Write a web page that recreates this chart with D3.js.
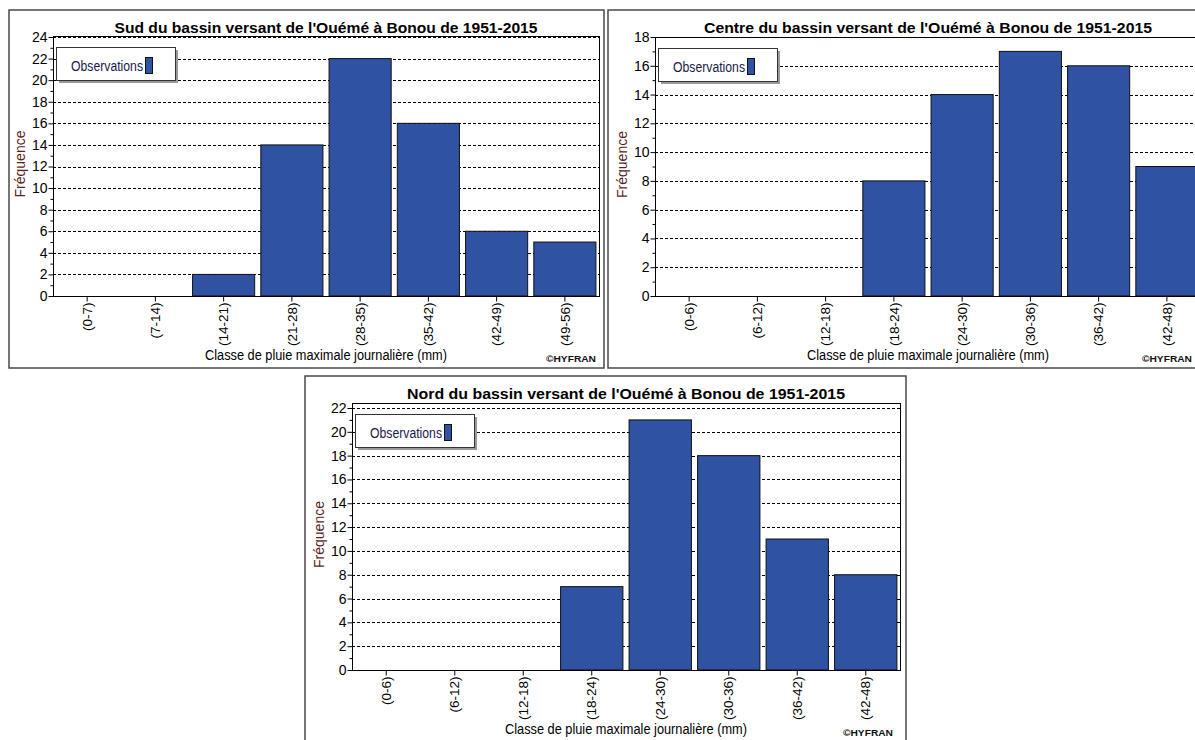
<!DOCTYPE html>
<html><head><meta charset="utf-8">
<script src="https://cdn.jsdelivr.net/npm/d3@7"></script>
<style>body{margin:0;background:#fff;}svg{display:block;}</style>
</head><body>
<svg id="chart" width="1195" height="740"></svg>
<script>
// ---- Data ----
const sudCategories = ["(0-7)","(7-14)","(14-21)","(21-28)","(28-35)","(35-42)","(42-49)","(49-56)"];
const sudValues = [0,0,2,14,22,16,6,5];
const sudYTicks = [0,2,4,6,8,10,12,14,16,18,20,22,24];

const centreCategories = ["(0-6)","(6-12)","(12-18)","(18-24)","(24-30)","(30-36)","(36-42)","(42-48)"];
const centreValues = [0,0,0,8,14,17,16,9];
const centreYTicks = [0,2,4,6,8,10,12,14,16,18];

const nordCategories = ["(0-6)","(6-12)","(12-18)","(18-24)","(24-30)","(30-36)","(36-42)","(42-48)"];
const nordValues = [0,0,0,7,21,18,11,8];
const nordYTicks = [0,2,4,6,8,10,12,14,16,18,20,22];

const titles = [
  "Sud du bassin versant de l'Ouémé à Bonou de 1951-2015",
  "Centre du bassin versant de l'Ouémé à Bonou de 1951-2015",
  "Nord du bassin versant de l'Ouémé à Bonou de 1951-2015"
];
const xTitle = "Classe de pluie maximale journalière (mm)";
const yTitle = "Fréquence";
const legendLabel = "Observations";
const credit = "©HYFRAN";

// ---- Layout ----
const panels = [
  {title: titles[0], cats: sudCategories, vals: sudValues, ticks: sudYTicks,
   frame: {x0: 9, y0: 10, x1: 604, y1: 368},
   plot: {left: 53, right: 599, top: 36, y0px: 296, ymaxpx: 37},
   titleW: 423, titleY: 33, creditX: 596},
  {title: titles[1], cats: centreCategories, vals: centreValues, ticks: centreYTicks,
   frame: {x0: 608, y0: 10, x1: 1205, y1: 368},
   plot: {left: 655, right: 1201, top: 37, y0px: 296, ymaxpx: 37},
   titleW: 448, titleY: 33, creditX: 1192},
  {title: titles[2], cats: nordCategories, vals: nordValues, ticks: nordYTicks,
   frame: {x0: 305, y0: 376, x1: 906, y1: 760},
   plot: {left: 352, right: 900, top: 403, y0px: 670, ymaxpx: 408},
   titleW: 438, titleY: 399, creditX: 893}
];

const svg = d3.select("#chart");
const FONT = "'Liberation Sans', Arial, sans-serif";
const BAR = "#2f52a2";

panels.forEach(p => {
  const g = svg.append("g");
  const P = p.plot, F = p.frame;
  // frame
  g.append("rect").attr("x", F.x0).attr("y", F.y0)
    .attr("width", F.x1 - F.x0).attr("height", F.y1 - F.y0)
    .attr("fill", "#fff").attr("stroke", "#4a4a4a").attr("stroke-width", 1.5);

  const x = d3.scaleBand().domain(p.cats).range([P.left, P.right])
    .paddingInner(0.09).paddingOuter(0.045);
  const yMax = p.ticks[p.ticks.length - 1];
  const y = d3.scaleLinear().domain([0, yMax]).range([P.y0px, P.ymaxpx]);

  // gridlines
  g.append("g").selectAll("line").data(p.ticks.filter(t => t > 0)).join("line")
    .attr("x1", P.left).attr("x2", P.right)
    .attr("y1", d => Math.round(y(d)) + 0.5).attr("y2", d => Math.round(y(d)) + 0.5)
    .attr("stroke", "#000").attr("stroke-width", 1).attr("stroke-dasharray", "3,2");

  // bars
  g.append("g").selectAll("rect").data(p.vals.map((v, i) => ({c: p.cats[i], v})).filter(d => d.v > 0))
    .join("rect")
    .attr("x", d => x(d.c)).attr("width", x.bandwidth())
    .attr("y", d => y(d.v)).attr("height", d => y(0) - y(d.v))
    .attr("fill", BAR).attr("stroke", "#111").attr("stroke-width", 1);

  // plot border
  g.append("rect").attr("x", P.left + 0.5).attr("y", P.top + 0.5)
    .attr("width", P.right - P.left).attr("height", P.y0px - P.top)
    .attr("fill", "none").attr("stroke", "#000").attr("stroke-width", 1);

  // y axis major
  const yAx = g.append("g").attr("transform", `translate(${P.left + 0.5},0)`)
    .call(d3.axisLeft(y).tickValues(p.ticks).tickSize(5).tickFormat(d3.format("d")));
  yAx.select(".domain").remove();
  yAx.selectAll("text").attr("font-family", FONT).attr("font-size", 14).attr("fill", "#000")
    .attr("x", -6);
  yAx.selectAll("line").attr("stroke", "#000");
  // minor ticks
  const minor = d3.range(1, yMax, 2);
  const yMin = g.append("g").attr("transform", `translate(${P.left + 0.5},0)`)
    .call(d3.axisLeft(y).tickValues(minor).tickSize(3).tickFormat(""));
  yMin.select(".domain").remove();
  yMin.selectAll("line").attr("stroke", "#000");

  // x axis
  const xAx = g.append("g").attr("transform", `translate(0,${P.y0px + 0.5})`)
    .call(d3.axisBottom(x).tickSize(5));
  xAx.select(".domain").remove();
  xAx.selectAll("line").attr("stroke", "#000");
  xAx.selectAll("text").attr("font-family", FONT).attr("font-size", 13.5).attr("fill", "#000")
    .attr("transform", "rotate(-90)").attr("text-anchor", "end")
    .attr("x", -6).attr("y", 0).attr("dy", "0.35em");

  // title
  g.append("text").attr("x", (P.left + P.right) / 2).attr("y", p.titleY)
    .attr("text-anchor", "middle").attr("font-family", FONT).attr("font-weight", "bold")
    .attr("font-size", 15.5).attr("textLength", p.titleW).attr("lengthAdjust", "spacingAndGlyphs")
    .attr("fill", "#000").text(p.title);

  // x title
  g.append("text").attr("x", (P.left + P.right) / 2).attr("y", P.y0px + 64)
    .attr("text-anchor", "middle").attr("font-family", FONT).attr("font-size", 14)
    .attr("textLength", 242).attr("lengthAdjust", "spacingAndGlyphs")
    .attr("fill", "#000").text(xTitle);

  // credit
  g.append("text").attr("x", p.creditX).attr("y", P.y0px + 66)
    .attr("text-anchor", "end").attr("font-family", FONT).attr("font-weight", "bold")
    .attr("font-size", 9.5).attr("textLength", 50).attr("lengthAdjust", "spacingAndGlyphs")
    .attr("fill", "#111").text(credit);

  // y title
  g.append("text").attr("transform", `translate(${P.left - 28},${(P.y0px + P.top) / 2 - 2}) rotate(-90)`)
    .attr("text-anchor", "middle").attr("font-family", FONT).attr("font-size", 14)
    .attr("fill", "#5c1f1f").text(yTitle);

  // legend
  const lx = P.left + 3, ly = P.top + 11;
  g.append("rect").attr("x", lx + 3).attr("y", ly + 3).attr("width", 119).attr("height", 33)
    .attr("fill", "#9a9a9a");
  g.append("rect").attr("x", lx + 0.5).attr("y", ly + 0.5).attr("width", 119).attr("height", 33)
    .attr("fill", "#fff").attr("stroke", "#333").attr("stroke-width", 1);
  g.append("text").attr("x", lx + 15).attr("y", ly + 24)
    .attr("font-family", FONT).attr("font-size", 14)
    .attr("textLength", 72).attr("lengthAdjust", "spacingAndGlyphs")
    .attr("fill", "#1a1a4a").text(legendLabel);
  g.append("rect").attr("x", lx + 89.5).attr("y", ly + 10.5).attr("width", 7).attr("height", 16)
    .attr("fill", BAR).attr("stroke", "#111").attr("stroke-width", 1);
});
</script>
</body></html>
